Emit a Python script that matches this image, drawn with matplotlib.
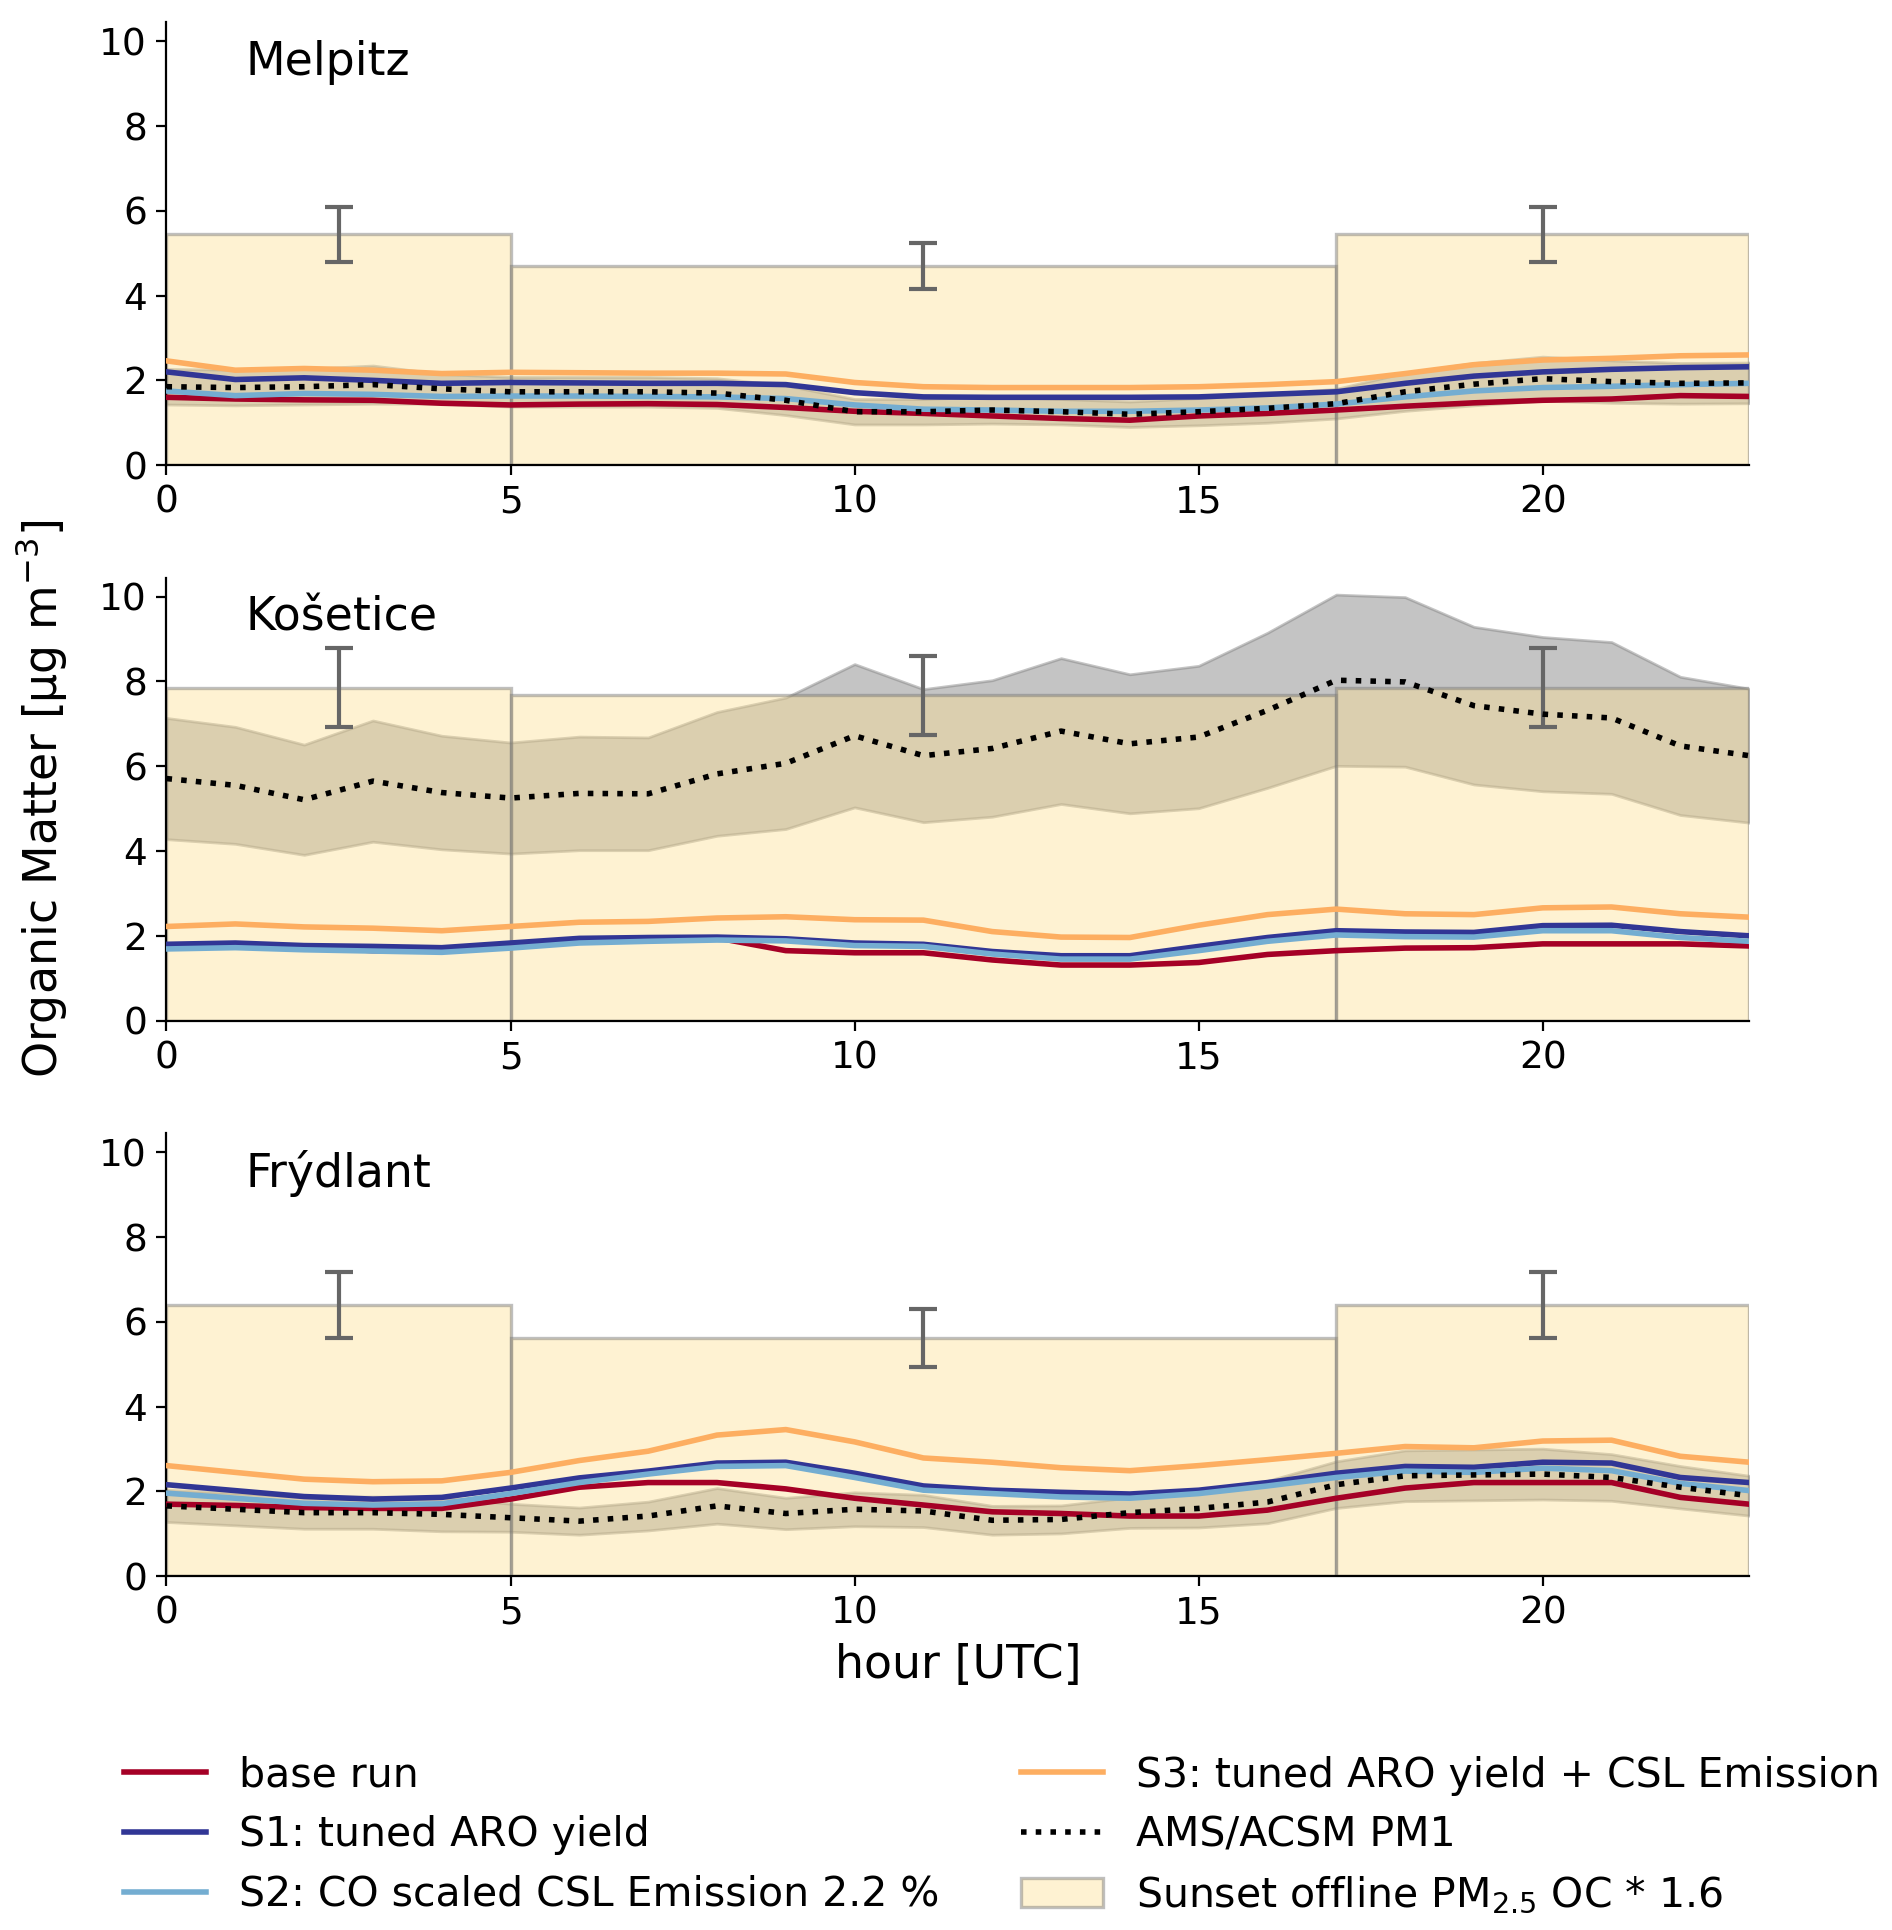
import numpy as np
import matplotlib
matplotlib.use("Agg")
import matplotlib.pyplot as plt

hours = np.arange(24)
stations = ["Melpitz", "Košetice", "Frýdlant"]

# model runs (µg m-3), hourly means
base_melpitz = [1.60, 1.56, 1.54, 1.53, 1.46, 1.42, 1.44, 1.45, 1.43, 1.36, 1.27, 1.22,
                1.16, 1.10, 1.06, 1.16, 1.22, 1.30, 1.39, 1.47, 1.53, 1.56, 1.64, 1.62]
s1_melpitz = [2.20, 2.02, 2.06, 2.00, 1.93, 1.95, 1.94, 1.93, 1.93, 1.90, 1.71, 1.61,
              1.60, 1.60, 1.60, 1.61, 1.67, 1.73, 1.93, 2.10, 2.20, 2.26, 2.30, 2.32]
s2_melpitz = [1.75, 1.64, 1.69, 1.67, 1.62, 1.63, 1.63, 1.62, 1.61, 1.57, 1.42, 1.32,
              1.30, 1.27, 1.27, 1.30, 1.35, 1.44, 1.61, 1.75, 1.83, 1.86, 1.90, 1.93]
s3_melpitz = [2.46, 2.24, 2.28, 2.24, 2.16, 2.19, 2.18, 2.17, 2.17, 2.15, 1.95, 1.85,
              1.83, 1.83, 1.83, 1.85, 1.90, 1.97, 2.16, 2.37, 2.48, 2.52, 2.58, 2.60]

base_kosetice = [1.78, 1.80, 1.74, 1.65, 1.65, 1.78, 1.90, 1.93, 1.95, 1.65, 1.60, 1.60,
                 1.43, 1.31, 1.31, 1.37, 1.56, 1.65, 1.71, 1.72, 1.81, 1.81, 1.81, 1.76]
s1_kosetice = [1.80, 1.83, 1.77, 1.75, 1.72, 1.83, 1.94, 1.96, 1.97, 1.93, 1.83, 1.80,
               1.63, 1.53, 1.53, 1.75, 1.96, 2.12, 2.09, 2.08, 2.24, 2.25, 2.10, 2.00]
s2_kosetice = [1.69, 1.72, 1.67, 1.64, 1.61, 1.71, 1.83, 1.87, 1.90, 1.88, 1.77, 1.75,
               1.57, 1.45, 1.45, 1.65, 1.87, 2.02, 1.98, 1.97, 2.12, 2.12, 1.96, 1.87]
s3_kosetice = [2.22, 2.28, 2.21, 2.18, 2.12, 2.22, 2.32, 2.34, 2.42, 2.45, 2.38, 2.37,
               2.10, 1.97, 1.96, 2.25, 2.50, 2.63, 2.52, 2.50, 2.66, 2.68, 2.52, 2.44]

base_frydlant = [1.70, 1.67, 1.62, 1.60, 1.60, 1.82, 2.10, 2.21, 2.21, 2.06, 1.84, 1.68,
                 1.52, 1.48, 1.42, 1.42, 1.56, 1.84, 2.08, 2.21, 2.21, 2.21, 1.86, 1.70]
s1_frydlant = [2.16, 2.02, 1.88, 1.82, 1.86, 2.08, 2.32, 2.48, 2.67, 2.69, 2.43, 2.13,
               2.03, 1.98, 1.94, 2.03, 2.21, 2.43, 2.59, 2.57, 2.69, 2.67, 2.33, 2.21]
s2_frydlant = [1.96, 1.84, 1.72, 1.68, 1.71, 1.95, 2.21, 2.41, 2.59, 2.61, 2.33, 2.03,
               1.95, 1.87, 1.84, 1.95, 2.13, 2.33, 2.48, 2.45, 2.55, 2.49, 2.19, 2.02]
s3_frydlant = [2.61, 2.45, 2.29, 2.23, 2.25, 2.45, 2.73, 2.95, 3.33, 3.46, 3.17, 2.79,
               2.69, 2.56, 2.49, 2.61, 2.75, 2.90, 3.06, 3.03, 3.19, 3.21, 2.83, 2.69]

# AMS/ACSM PM1 observations: mean and standard deviation
ams_melpitz = [1.85, 1.83, 1.85, 1.90, 1.80, 1.73, 1.73, 1.73, 1.70, 1.53, 1.26, 1.26,
               1.30, 1.26, 1.20, 1.26, 1.34, 1.45, 1.73, 1.91, 2.04, 1.97, 1.93, 1.94]
ams_std_melpitz = [0.42, 0.42, 0.42, 0.45, 0.35, 0.35, 0.35, 0.35, 0.35, 0.35, 0.30, 0.30,
                   0.32, 0.30, 0.30, 0.32, 0.34, 0.35, 0.45, 0.50, 0.52, 0.50, 0.48, 0.48]
ams_kosetice = [5.71, 5.55, 5.21, 5.65, 5.38, 5.25, 5.36, 5.35, 5.82, 6.07, 6.72, 6.25,
                6.42, 6.83, 6.53, 6.69, 7.32, 8.03, 7.99, 7.43, 7.23, 7.14, 6.48, 6.25]
ams_std_kosetice = [1.43, 1.38, 1.30, 1.43, 1.34, 1.31, 1.34, 1.33, 1.46, 1.55, 1.69, 1.57,
                    1.61, 1.72, 1.64, 1.68, 1.83, 2.02, 2.00, 1.86, 1.82, 1.79, 1.63, 1.58]
ams_frydlant = [1.66, 1.58, 1.50, 1.50, 1.46, 1.38, 1.30, 1.42, 1.66, 1.48, 1.58, 1.54,
                1.32, 1.34, 1.50, 1.60, 1.75, 2.16, 2.37, 2.39, 2.41, 2.33, 2.10, 1.90]
ams_std_frydlant = [0.38, 0.38, 0.38, 0.38, 0.40, 0.33, 0.32, 0.34, 0.42, 0.37, 0.40, 0.38,
                    0.34, 0.33, 0.36, 0.45, 0.50, 0.55, 0.60, 0.60, 0.60, 0.55, 0.50, 0.47]

# Sunset offline filter samples (night / day / night)
filter_start = [0, 5, 17]
filter_end = [5, 17, 23]
sunset_melpitz = [5.45, 4.70, 5.45]
sunset_err_melpitz = [0.65, 0.55, 0.65]
sunset_kosetice = [7.85, 7.67, 7.85]
sunset_err_kosetice = [0.93, 0.93, 0.93]
sunset_frydlant = [6.40, 5.62, 6.40]
sunset_err_frydlant = [0.78, 0.68, 0.78]

runs = {
    "Melpitz": (base_melpitz, s1_melpitz, s2_melpitz, s3_melpitz),
    "Košetice": (base_kosetice, s1_kosetice, s2_kosetice, s3_kosetice),
    "Frýdlant": (base_frydlant, s1_frydlant, s2_frydlant, s3_frydlant),
}
obs = {
    "Melpitz": (ams_melpitz, ams_std_melpitz, sunset_melpitz, sunset_err_melpitz),
    "Košetice": (ams_kosetice, ams_std_kosetice, sunset_kosetice, sunset_err_kosetice),
    "Frýdlant": (ams_frydlant, ams_std_frydlant, sunset_frydlant, sunset_err_frydlant),
}

run_labels = ["base run", "S1: tuned ARO yield", "S2: CO scaled CSL Emission 2.2 %",
              "S3: tuned ARO yield + CSL Emission"]
run_colors = ["#a50026", "#313695", "#74add1", "#fdae61"]

fig = plt.figure(figsize=(9.46, 9.65), dpi=200)
left, width, height = 0.088, 0.8365, 0.2295
bottoms = [0.759, 0.4712, 0.1833]

handles = {}
for name, b in zip(stations, bottoms):
    ax = fig.add_axes([left, b, width, height])
    ams, ams_std, sunset, sunset_err = obs[name]
    ams = np.array(ams)
    ams_std = np.array(ams_std)

    ax.fill_between(hours, ams - ams_std, ams + ams_std, color="grey", alpha=0.46,
                    zorder=1)

    widths = np.array(filter_end) - np.array(filter_start)
    bars = ax.bar(filter_start, sunset, width=widths, align="edge",
                  facecolor=(254 / 255, 224 / 255, 144 / 255, 0.4),
                  edgecolor=(0.45, 0.45, 0.45, 0.45), linewidth=1.2, zorder=2)
    mids = np.array(filter_start) + widths / 2
    ax.errorbar(mids, sunset, yerr=sunset_err, fmt="none", ecolor="#666666",
                elinewidth=1.5, capsize=5, capthick=1.5, zorder=3)

    for vals, lab, col in zip(runs[name], run_labels, run_colors):
        ln, = ax.plot(hours, vals, color=col, lw=2, label=lab, zorder=4)
        handles[lab] = ln
    ams_ln, = ax.plot(hours, ams, color="black", lw=2, ls=":", zorder=5,
                      label="AMS/ACSM PM1")
    handles["ams"] = ams_ln
    handles["sunset"] = bars

    ax.set_xlim(0, 23)
    ax.set_ylim(0, 10.45)
    ax.set_xticks([0, 5, 10, 15, 20])
    ax.set_yticks([0, 2, 4, 6, 8, 10])
    ax.tick_params(labelsize=13.5)
    ax.spines["top"].set_visible(False)
    ax.spines["right"].set_visible(False)
    ax.text(0.05, 0.91, name, transform=ax.transAxes, fontsize=16.5, va="center")

    if name == "Košetice":
        ax.set_ylabel("Organic Matter [µg m$^{-3}$]", fontsize=16.5, labelpad=11)
    if name == "Frýdlant":
        ax.set_xlabel("hour [UTC]", fontsize=16.5)

leg_handles = [handles[l] for l in run_labels[:3]] + [handles[run_labels[3]], handles["ams"],
                                                      handles["sunset"]]
leg_labels = run_labels[:3] + [run_labels[3], "AMS/ACSM PM1",
                               "Sunset offline PM$_{2.5}$ OC * 1.6"]
fig.legend(leg_handles, leg_labels, loc="upper left", bbox_to_anchor=(0.046, 0.1095),
           ncol=2, frameon=False, fontsize=14.75, labelspacing=0.48)

fig.savefig("out.png", dpi=200)
